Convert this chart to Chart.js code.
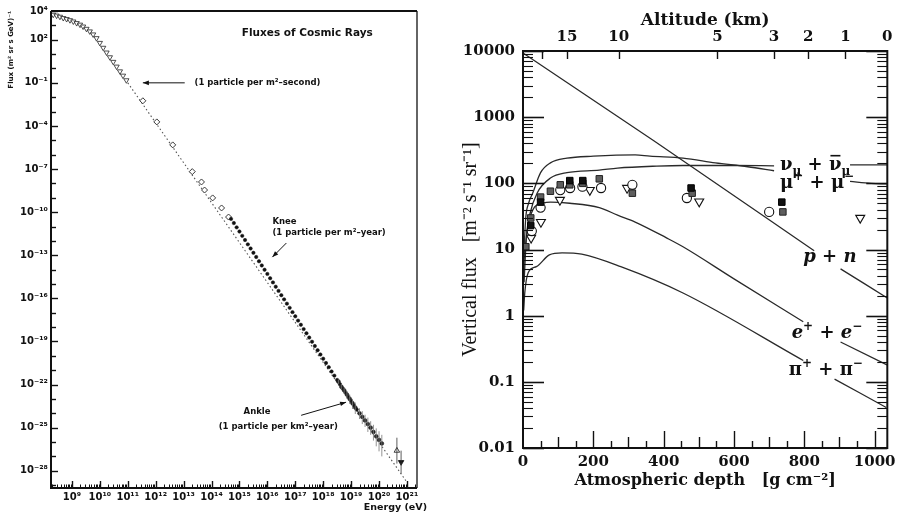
<!DOCTYPE html>
<html><head><meta charset="utf-8">
<script src="https://cdn.jsdelivr.net/npm/chart.js@4/dist/chart.umd.min.js"></script>
<style>
html,body{margin:0;padding:0;background:#fff;}
#wrap{position:relative;width:901px;height:517px;overflow:hidden;background:#fff;}
#c1{position:absolute;left:0;top:0;width:430px;height:517px;}
#c2{position:absolute;left:440px;top:0;width:461px;height:517px;}
</style></head><body>
<div id="wrap"><canvas id="c1" width="430" height="517"></canvas><canvas id="c2" width="461" height="517"></canvas></div>
<script>
// ================= LEFT PANEL DATA (log10 E [eV], log10 flux) =================
const lowLogE  = [8.33, 8.45, 8.57, 8.69, 8.81, 8.93, 9.05, 9.17, 9.29, 9.40, 9.52, 9.64, 9.76, 9.88, 10.00, 10.12, 10.24, 10.36, 10.48, 10.60, 10.72, 10.83, 10.95];
const lowLogF  = [3.74, 3.68, 3.60, 3.51, 3.44, 3.36, 3.27, 3.16, 3.05, 2.92, 2.76, 2.58, 2.37, 2.11, 1.78, 1.44, 1.11, 0.78, 0.46, 0.13, -0.20, -0.50, -0.82];
const midLogE  = [11.54, 12.04, 12.61, 13.31, 13.64, 13.75, 14.04, 14.36, 14.61];
const midLogF  = [-2.25, -3.72, -5.32, -7.18, -7.90, -8.46, -9.01, -9.71, -10.34];
const kneeLogE = [14.70, 14.80, 14.90, 15.00, 15.10, 15.20, 15.30, 15.40, 15.50, 15.60, 15.70, 15.80, 15.90, 16.00, 16.10, 16.20, 16.30, 16.40, 16.50, 16.60, 16.70, 16.80, 16.90, 17.00, 17.10, 17.20, 17.30, 17.40, 17.50, 17.60, 17.70, 17.80, 17.90, 18.00, 18.10, 18.20, 18.30, 18.40, 18.50, 18.60, 18.70, 18.80, 18.90, 19.00, 19.10, 19.20];
const kneeLogF = [-10.47, -10.76, -11.06, -11.35, -11.65, -11.94, -12.24, -12.53, -12.83, -13.12, -13.42, -13.71, -14.01, -14.30, -14.60, -14.89, -15.19, -15.48, -15.78, -16.07, -16.37, -16.66, -16.96, -17.25, -17.55, -17.84, -18.14, -18.43, -18.73, -19.02, -19.32, -19.61, -19.91, -20.20, -20.50, -20.79, -21.09, -21.38, -21.68, -21.97, -22.27, -22.56, -22.86, -23.15, -23.45, -23.74];
const ankleLogE = [18.55, 18.65, 18.75, 18.85, 18.95, 19.05, 19.15, 19.30, 19.40, 19.50, 19.60, 19.70, 19.80, 19.90, 20.00, 20.10];
const ankleLogF = [-21.80, -22.15, -22.40, -22.70, -23.00, -23.30, -23.60, -24.00, -24.25, -24.50, -24.75, -25.00, -25.30, -25.60, -25.85, -26.10];
const ankleErrLow  = [0.15, 0.20, 0.25, 0.30, 0.35, 0.40, 0.45, 0.40, 0.50, 0.45, 0.55, 0.50, 0.60, 0.70, 0.80, 0.90];
const ankleErrHigh = [0.15, 0.20, 0.20, 0.25, 0.30, 0.30, 0.35, 0.35, 0.40, 0.40, 0.45, 0.45, 0.50, 0.55, 0.60, 0.60];
const topOpenLogE = [20.64];  const topOpenLogF = [-26.60];
const topFilledLogE = [20.79]; const topFilledLogF = [-27.40];
const powerLawLogE = [11.0, 21.0];
const powerLawLogF = [-1.0, -28.8];
const leftYLabelExps = [4, 2, -1, -4, -7, -10, -13, -16, -19, -22, -25, -28];
const leftXLabelExps = [9, 10, 11, 12, 13, 14, 15, 16, 17, 18, 19, 20, 21];
// annotations (anchored in data coordinates)
const noteText  = ['Fluxes of Cosmic Rays', '(1 particle per m\u00B2\u2013second)', 'Knee', '(1 particle per m\u00B2\u2013year)', 'Ankle', '(1 particle per km\u00B2\u2013year)'];
const noteLogE  = [17.43, 13.39, 16.18, 16.18, 15.63, 16.39];
const noteLogF  = [2.48, -1.0, -10.69, -11.45, -23.93, -24.97];
const noteAlign = ['center', 'left', 'left', 'left', 'center', 'center'];
const arrowFromE = [13.04, 16.68, 17.21];
const arrowFromF = [-1.0, -12.15, -24.14];
const arrowToE   = [11.54, 16.18, 18.82];
const arrowToF   = [-1.0, -13.13, -23.23];

// ================= RIGHT PANEL DATA (depth g/cm2, flux m-2 s-1 sr-1) =================
const depthTickValues = [0, 200, 400, 600, 800, 1000];
const fluxTickValues = [0.01, 0.1, 1, 10, 100, 1000, 10000];
const fluxTickLabels = ['0.01', '0.1', '1', '10', '100', '1000', '10000'];
const altitudeTickDepths = [53, 125, 272, 553, 714, 811, 917, 1036];
const altitudeTickLabels = ['', '15', '10', '5', '3', '2', '1', '0'];

const pnDepthA = [0, 372, 828];        const pnFluxA = [9300, 440, 9.6];
const pnDepthB = [903, 1036];          const pnFluxB = [5.1, 1.85];
const muDepthA = [2, 8, 16, 28, 50, 78, 125, 200, 319, 361, 455, 547, 639, 714];
const muFluxA  = [7.9, 31, 50, 72, 145, 204, 240, 257, 269, 257, 240, 204, 178, 155];
const muDepthB = [930, 990, 1036];     const muFluxB = [107, 100, 98];
const nuDepthA = [3, 10, 20, 40, 78, 125, 217, 269, 380, 455, 600, 714];
const nuFluxA  = [3.2, 16, 35, 71, 120, 145, 158, 170, 182, 186, 186, 184];
const nuDepthB = [930, 1036];          const nuFluxB = [190, 190];
const eeDepthA = [1, 4, 8, 15, 33, 55, 78, 133, 217, 269, 319, 408, 455, 600, 797];
const eeFluxA  = [3, 8, 13, 24, 44, 50, 52, 50, 43, 33, 26, 15, 11, 3.6, 0.81];
const eeDepthB = [903, 1035];          const eeFluxB = [0.40, 0.18];
const piDepthA = [2, 5, 15, 38, 75, 111, 167, 278, 455, 797];
const piFluxA  = [1.2, 2.2, 4.5, 5.5, 8.3, 8.9, 8.5, 5.5, 2.2, 0.21];
const piDepthB = [886, 1033];          const piFluxB = [0.11, 0.041];

const graySqDepth = [8, 22, 50, 78, 106, 133, 170, 217, 311, 481, 739];
const graySqFlux  = [11, 30, 62, 76, 95, 95, 100, 117, 71, 71, 37];
const blackSqDepth = [22, 50, 133, 170, 478, 736];
const blackSqFlux  = [23, 52, 110, 110, 85, 52];
const circleDepth = [25, 50, 106, 134, 169, 222, 311, 466, 700];
const circleFlux  = [19, 43, 79, 85, 89, 85, 95, 60, 37];
const triDepth = [23, 51, 105, 190, 296, 501, 959];
const triFlux  = [15, 26, 56, 79, 85, 53, 30];

const curveLabelDepth = [731, 731, 797, 764, 756];
const curveLabelFlux  = [190, 100, 7.7, 0.55, 0.15];

// ================= helpers =================
const SUP = {'-':'\u207B','0':'\u2070','1':'\u00B9','2':'\u00B2','3':'\u00B3','4':'\u2074','5':'\u2075','6':'\u2076','7':'\u2077','8':'\u2078','9':'\u2079'};
function p10(n){ return '10' + String(n).split('').map(c => SUP[c]).join(''); }
function pts(xs, ys){ return xs.map((x, i) => ({x: x, y: ys[i]})); }
const INK = '#111';
Chart.defaults.color = INK;

// ================= LEFT CHART =================
const leftDecor = {
  id: 'leftDecor',
  afterDraw(chart){
    const {ctx, chartArea: a, scales: {x, y}} = chart;
    ctx.save();
    ctx.strokeStyle = INK; ctx.fillStyle = INK;
    ctx.lineWidth = 2;
    ctx.beginPath(); ctx.moveTo(a.left, a.top); ctx.lineTo(a.right, a.top); ctx.stroke();
    ctx.beginPath(); ctx.moveTo(a.left, a.top); ctx.lineTo(a.left, a.bottom); ctx.lineTo(a.right, a.bottom); ctx.stroke();
    ctx.lineWidth = 1.3;
    ctx.beginPath(); ctx.moveTo(a.right, a.top); ctx.lineTo(a.right, a.bottom); ctx.stroke();
    // y ticks (inward)
    ctx.lineWidth = 1.4;
    for (let v = Math.ceil(y.min); v <= Math.floor(y.max); v++){
      const py = Math.round(y.getPixelForValue(v)) + 0.5;
      const len = leftYLabelExps.includes(v) ? 7 : 5;
      ctx.beginPath(); ctx.moveTo(a.left, py); ctx.lineTo(a.left + len, py); ctx.stroke();
    }
    // x ticks (inward)
    for (let d = Math.floor(x.min); d <= Math.ceil(x.max); d++){
      for (let k = 1; k < 10; k++){
        const v = d + Math.log10(k);
        if (v < x.min || v > x.max) continue;
        const px = Math.round(x.getPixelForValue(v)) + 0.5;
        const len = k === 1 ? 7 : 3.5;
        ctx.lineWidth = k === 1 ? 1.4 : 1;
        ctx.beginPath(); ctx.moveTo(px, a.bottom); ctx.lineTo(px, a.bottom - len); ctx.stroke();
      }
    }
    // error bars near the ankle
    ctx.strokeStyle = '#777'; ctx.lineWidth = 0.8;
    ankleLogE.forEach((e, i) => {
      const px = x.getPixelForValue(e);
      ctx.beginPath();
      ctx.moveTo(px, y.getPixelForValue(ankleLogF[i] - ankleErrLow[i]));
      ctx.lineTo(px, y.getPixelForValue(ankleLogF[i] + ankleErrHigh[i]));
      ctx.stroke();
    });
    ctx.strokeStyle = '#333';
    const tx = x.getPixelForValue(topOpenLogE[0]);
    ctx.beginPath(); ctx.moveTo(tx, y.getPixelForValue(topOpenLogF[0] + 0.9)); ctx.lineTo(tx, y.getPixelForValue(topOpenLogF[0] - 0.9)); ctx.stroke();
    const fx = x.getPixelForValue(topFilledLogE[0]);
    ctx.beginPath(); ctx.moveTo(fx, y.getPixelForValue(topFilledLogF[0] + 0.8)); ctx.lineTo(fx, y.getPixelForValue(topFilledLogF[0] - 0.8)); ctx.stroke();
    // notes
    ctx.fillStyle = INK; ctx.textBaseline = 'middle';
    noteText.forEach((t, i) => {
      ctx.font = (i === 0 ? 'bold 10.5px' : 'bold 8.5px') + ' "DejaVu Sans"';
      ctx.textAlign = noteAlign[i];
      ctx.fillText(t, x.getPixelForValue(noteLogE[i]), y.getPixelForValue(noteLogF[i]));
    });
    // arrows
    ctx.strokeStyle = INK; ctx.lineWidth = 1;
    arrowFromE.forEach((e, i) => {
      const x0 = x.getPixelForValue(e), y0 = y.getPixelForValue(arrowFromF[i]);
      const x1 = x.getPixelForValue(arrowToE[i]), y1 = y.getPixelForValue(arrowToF[i]);
      ctx.beginPath(); ctx.moveTo(x0, y0); ctx.lineTo(x1, y1); ctx.stroke();
      const ang = Math.atan2(y1 - y0, x1 - x0), L = 6, W = 2.3;
      ctx.beginPath();
      ctx.moveTo(x1, y1);
      ctx.lineTo(x1 - L * Math.cos(ang) + W * Math.sin(ang), y1 - L * Math.sin(ang) - W * Math.cos(ang));
      ctx.lineTo(x1 - L * Math.cos(ang) - W * Math.sin(ang), y1 - L * Math.sin(ang) + W * Math.cos(ang));
      ctx.closePath(); ctx.fill();
    });
    // x title
    ctx.font = 'bold 9.5px "DejaVu Sans"'; ctx.textAlign = 'right'; ctx.textBaseline = 'middle';
    ctx.fillText('Energy (eV)', x.right + 10, a.bottom + 20);
    ctx.restore();
  }
};

const leftFont = {family: 'DejaVu Sans', weight: 'bold', size: 10};
new Chart(document.getElementById('c1'), {
  type: 'scatter',
  data: { datasets: [
    { data: pts(topFilledLogE, topFilledLogF), pointStyle: 'triangle', rotation: 180, pointRadius: 3.2, backgroundColor: INK, borderColor: INK, borderWidth: 0.8, clip: false },
    { data: pts(topOpenLogE, topOpenLogF), pointStyle: 'triangle', pointRadius: 3.2, backgroundColor: '#fff', borderColor: INK, borderWidth: 0.8, clip: false },
    { data: pts(ankleLogE, ankleLogF), pointStyle: 'circle', pointRadius: 1.9, backgroundColor: '#222', borderColor: '#222', borderWidth: 0.6, clip: false },
    { data: pts(kneeLogE, kneeLogF), pointStyle: 'circle', pointRadius: 1.7, backgroundColor: '#111', borderColor: '#111', borderWidth: 0.5, clip: false },
    { data: pts(midLogE, midLogF), pointStyle: 'rectRot', pointRadius: 3, backgroundColor: '#fff', borderColor: '#222', borderWidth: 0.9, clip: false },
    { data: pts(lowLogE, lowLogF), pointStyle: 'triangle', rotation: 180, pointRadius: 3, backgroundColor: '#fff', borderColor: '#222', borderWidth: 0.8, clip: false },
    { data: pts(powerLawLogE, powerLawLogF), showLine: true, pointRadius: 0, borderColor: '#555', borderWidth: 1.1, borderDash: [1.5, 2.5] }
  ]},
  options: {
    responsive: false, animation: false, events: [],
    layout: { padding: { top: 11, right: 13, left: 0, bottom: 0 } },
    plugins: { legend: { display: false }, tooltip: { enabled: false } },
    scales: {
      x: { type: 'linear', min: 8.25, max: 21.36,
        afterFit: s => { s.height = 29; },
        afterBuildTicks: s => { s.ticks = leftXLabelExps.map(v => ({value: v})); },
        ticks: { autoSkip: false, maxRotation: 0, padding: 3, font: leftFont, color: INK, callback: v => p10(v) },
        grid: { display: false, drawTicks: false }, border: { display: false } },
      y: { type: 'linear', min: -29.2, max: 4,
        afterFit: s => { s.width = 51; },
        afterBuildTicks: s => { s.ticks = leftYLabelExps.map(v => ({value: v})); },
        ticks: { autoSkip: false, padding: 3, font: leftFont, color: INK, callback: v => p10(v) },
        grid: { display: false, drawTicks: false }, border: { display: false },
        title: { display: true, text: 'Flux (m\u00B2 sr s GeV)\u207B\u00B9', align: 'end', font: {family: 'DejaVu Sans', weight: 'bold', size: 7}, padding: { top: 7, bottom: 0 } } }
    }
  },
  plugins: [leftDecor]
});

// ================= RIGHT CHART =================
function rich(ctx, x, y, parts){
  let cx = x;
  for (const p of parts){
    ctx.font = p.f;
    ctx.fillText(p.t, cx, y + (p.dy || 0));
    const w = ctx.measureText(p.t).width;
    if (p.bar) ctx.fillRect(cx + 1.5, y - p.bar, w - 2.5, 1.6);
    cx += w;
  }
}
const F_MAIN = 'bold 18px "DejaVu Serif"';
const F_ITAL = 'italic bold 18px "DejaVu Serif"';
const F_SMALL = 'bold 12px "DejaVu Serif"';
const curveLabelParts = [
  [{t:'\u03BD', f:F_MAIN}, {t:'\u03BC', f:F_SMALL, dy:5}, {t:' + ', f:F_MAIN}, {t:'\u03BD', f:F_MAIN, bar:15}, {t:'\u03BC', f:F_SMALL, dy:5}],
  [{t:'\u03BC', f:F_MAIN}, {t:'+', f:F_SMALL, dy:-8}, {t:' + ', f:F_MAIN}, {t:'\u03BC', f:F_MAIN}, {t:'\u2212', f:F_SMALL, dy:-8}],
  [{t:'p', f:F_ITAL}, {t:' + ', f:F_MAIN}, {t:'n', f:F_ITAL}],
  [{t:'e', f:F_ITAL}, {t:'+', f:F_SMALL, dy:-8}, {t:' + ', f:F_MAIN}, {t:'e', f:F_ITAL}, {t:'\u2212', f:F_SMALL, dy:-8}],
  [{t:'\u03C0', f:F_MAIN}, {t:'+', f:F_SMALL, dy:-8}, {t:' + ', f:F_MAIN}, {t:'\u03C0', f:F_MAIN}, {t:'\u2212', f:F_SMALL, dy:-8}]
];

const rightDecor = {
  id: 'rightDecor',
  afterDraw(chart){
    const {ctx, chartArea: a, scales: {x, y}} = chart;
    ctx.save();
    ctx.strokeStyle = INK; ctx.fillStyle = INK;
    ctx.lineWidth = 2;
    ctx.strokeRect(a.left, a.top, a.right - a.left, a.bottom - a.top);
    // y ticks both sides
    for (let d = -2; d <= 4; d++){
      for (let k = 1; k < 10; k++){
        const v = k * Math.pow(10, d);
        if (v < y.min * 0.999 || v > y.max * 1.001) continue;
        const py = Math.round(y.getPixelForValue(v)) + 0.5;
        const len = k === 1 ? 21 : 10;
        ctx.lineWidth = k === 1 ? 1.6 : 1.1;
        ctx.beginPath(); ctx.moveTo(a.left, py); ctx.lineTo(a.left + len, py); ctx.stroke();
        ctx.beginPath(); ctx.moveTo(a.right, py); ctx.lineTo(a.right - len, py); ctx.stroke();
      }
    }
    // bottom ticks
    ctx.lineWidth = 1.4;
    for (let v = 50; v <= 1000; v += 50){
      const px = Math.round(x.getPixelForValue(v)) + 0.5;
      const len = v % 200 === 0 ? 17 : (v % 100 === 0 ? 11 : 7);
      ctx.beginPath(); ctx.moveTo(px, a.bottom); ctx.lineTo(px, a.bottom - len); ctx.stroke();
    }
    // top ticks (altitude)
    altitudeTickDepths.forEach(dv => {
      if (dv >= x.max) return;
      const px = Math.round(x.getPixelForValue(dv)) + 0.5;
      ctx.beginPath(); ctx.moveTo(px, a.top); ctx.lineTo(px, a.top + 8); ctx.stroke();
    });
    // curve labels
    ctx.textAlign = 'left'; ctx.textBaseline = 'alphabetic';
    curveLabelParts.forEach((parts, i) => {
      rich(ctx, x.getPixelForValue(curveLabelDepth[i]), y.getPixelForValue(curveLabelFlux[i]) + 5, parts);
    });
    ctx.restore();
  }
};

const lineStyle = { showLine: true, pointRadius: 0, borderColor: '#2a2a2a', borderWidth: 1.3, tension: 0.3, cubicInterpolationMode: 'monotone' };
const rFontTick = {family: 'DejaVu Serif', weight: 'bold', size: 15};
new Chart(document.getElementById('c2'), {
  type: 'scatter',
  data: { datasets: [
    { data: pts(blackSqDepth, blackSqFlux), pointStyle: 'rect', pointRadius: 4.6, backgroundColor: '#111', borderColor: '#000', borderWidth: 1, clip: false },
    { data: pts(graySqDepth, graySqFlux), pointStyle: 'rect', pointRadius: 4.6, backgroundColor: '#5e5e5e', borderColor: '#222', borderWidth: 1, clip: false },
    { data: pts(circleDepth, circleFlux), pointStyle: 'circle', pointRadius: 4.6, backgroundColor: '#fff', borderColor: '#111', borderWidth: 1.1, clip: false },
    { data: pts(triDepth, triFlux), pointStyle: 'triangle', rotation: 180, pointRadius: 5.2, backgroundColor: '#fff', borderColor: '#111', borderWidth: 1.1, clip: false },
    Object.assign({ data: pts(pnDepthA, pnFluxA) }, lineStyle, {tension: 0}),
    Object.assign({ data: pts(pnDepthB, pnFluxB) }, lineStyle, {tension: 0}),
    Object.assign({ data: pts(muDepthA, muFluxA) }, lineStyle),
    Object.assign({ data: pts(muDepthB, muFluxB) }, lineStyle),
    Object.assign({ data: pts(nuDepthA, nuFluxA) }, lineStyle),
    Object.assign({ data: pts(nuDepthB, nuFluxB) }, lineStyle),
    Object.assign({ data: pts(eeDepthA, eeFluxA) }, lineStyle),
    Object.assign({ data: pts(eeDepthB, eeFluxB) }, lineStyle),
    Object.assign({ data: pts(piDepthA, piFluxA) }, lineStyle),
    Object.assign({ data: pts(piDepthB, piFluxB) }, lineStyle)
  ]},
  options: {
    responsive: false, animation: false, events: [],
    layout: { padding: { top: 0, right: 5, left: 0, bottom: 0 } },
    plugins: { legend: { display: false }, tooltip: { enabled: false } },
    scales: {
      x: { type: 'linear', position: 'bottom', min: 0, max: 1036,
        afterFit: s => { s.height = 69; },
        afterBuildTicks: s => { s.ticks = depthTickValues.map(v => ({value: v})); },
        ticks: { autoSkip: false, maxRotation: 0, padding: 5, font: rFontTick, color: INK, callback: v => String(v) },
        grid: { display: false, drawTicks: false }, border: { display: false },
        title: { display: true, text: 'Atmospheric depth   [g cm\u207B\u00B2]', font: {family: 'DejaVu Serif', weight: 'bold', size: 16}, color: INK, padding: { top: 0, bottom: 27 } } },
      x2: { type: 'linear', axis: 'x', position: 'top', min: 0, max: 1036,
        afterFit: s => { s.height = 51; },
        afterBuildTicks: s => { s.ticks = altitudeTickDepths.map(v => ({value: v})); },
        ticks: { autoSkip: false, maxRotation: 0, padding: 5, font: rFontTick, color: INK, callback: (v, i) => altitudeTickLabels[i] },
        grid: { display: false, drawTicks: false }, border: { display: false },
        title: { display: true, text: 'Altitude (km)', font: {family: 'DejaVu Serif', weight: 'bold', size: 17}, color: INK, padding: { top: 10, bottom: 0 } } },
      y: { type: 'logarithmic', min: 0.01, max: 10000,
        afterFit: s => { s.width = 83; },
        afterBuildTicks: s => { s.ticks = fluxTickValues.map(v => ({value: v})); },
        ticks: { autoSkip: false, padding: 8, font: rFontTick, color: INK, callback: (v, i) => fluxTickLabels[i] },
        grid: { display: false, drawTicks: false }, border: { display: false },
        title: { display: true, text: 'Vertical flux   [m\u207B\u00B2 s\u207B\u00B9 sr\u207B\u00B9]', font: {family: 'Liberation Serif', size: 20}, color: INK, padding: { top: 19, bottom: 0 } } }
    }
  },
  plugins: [rightDecor]
});
</script>
</body></html>
